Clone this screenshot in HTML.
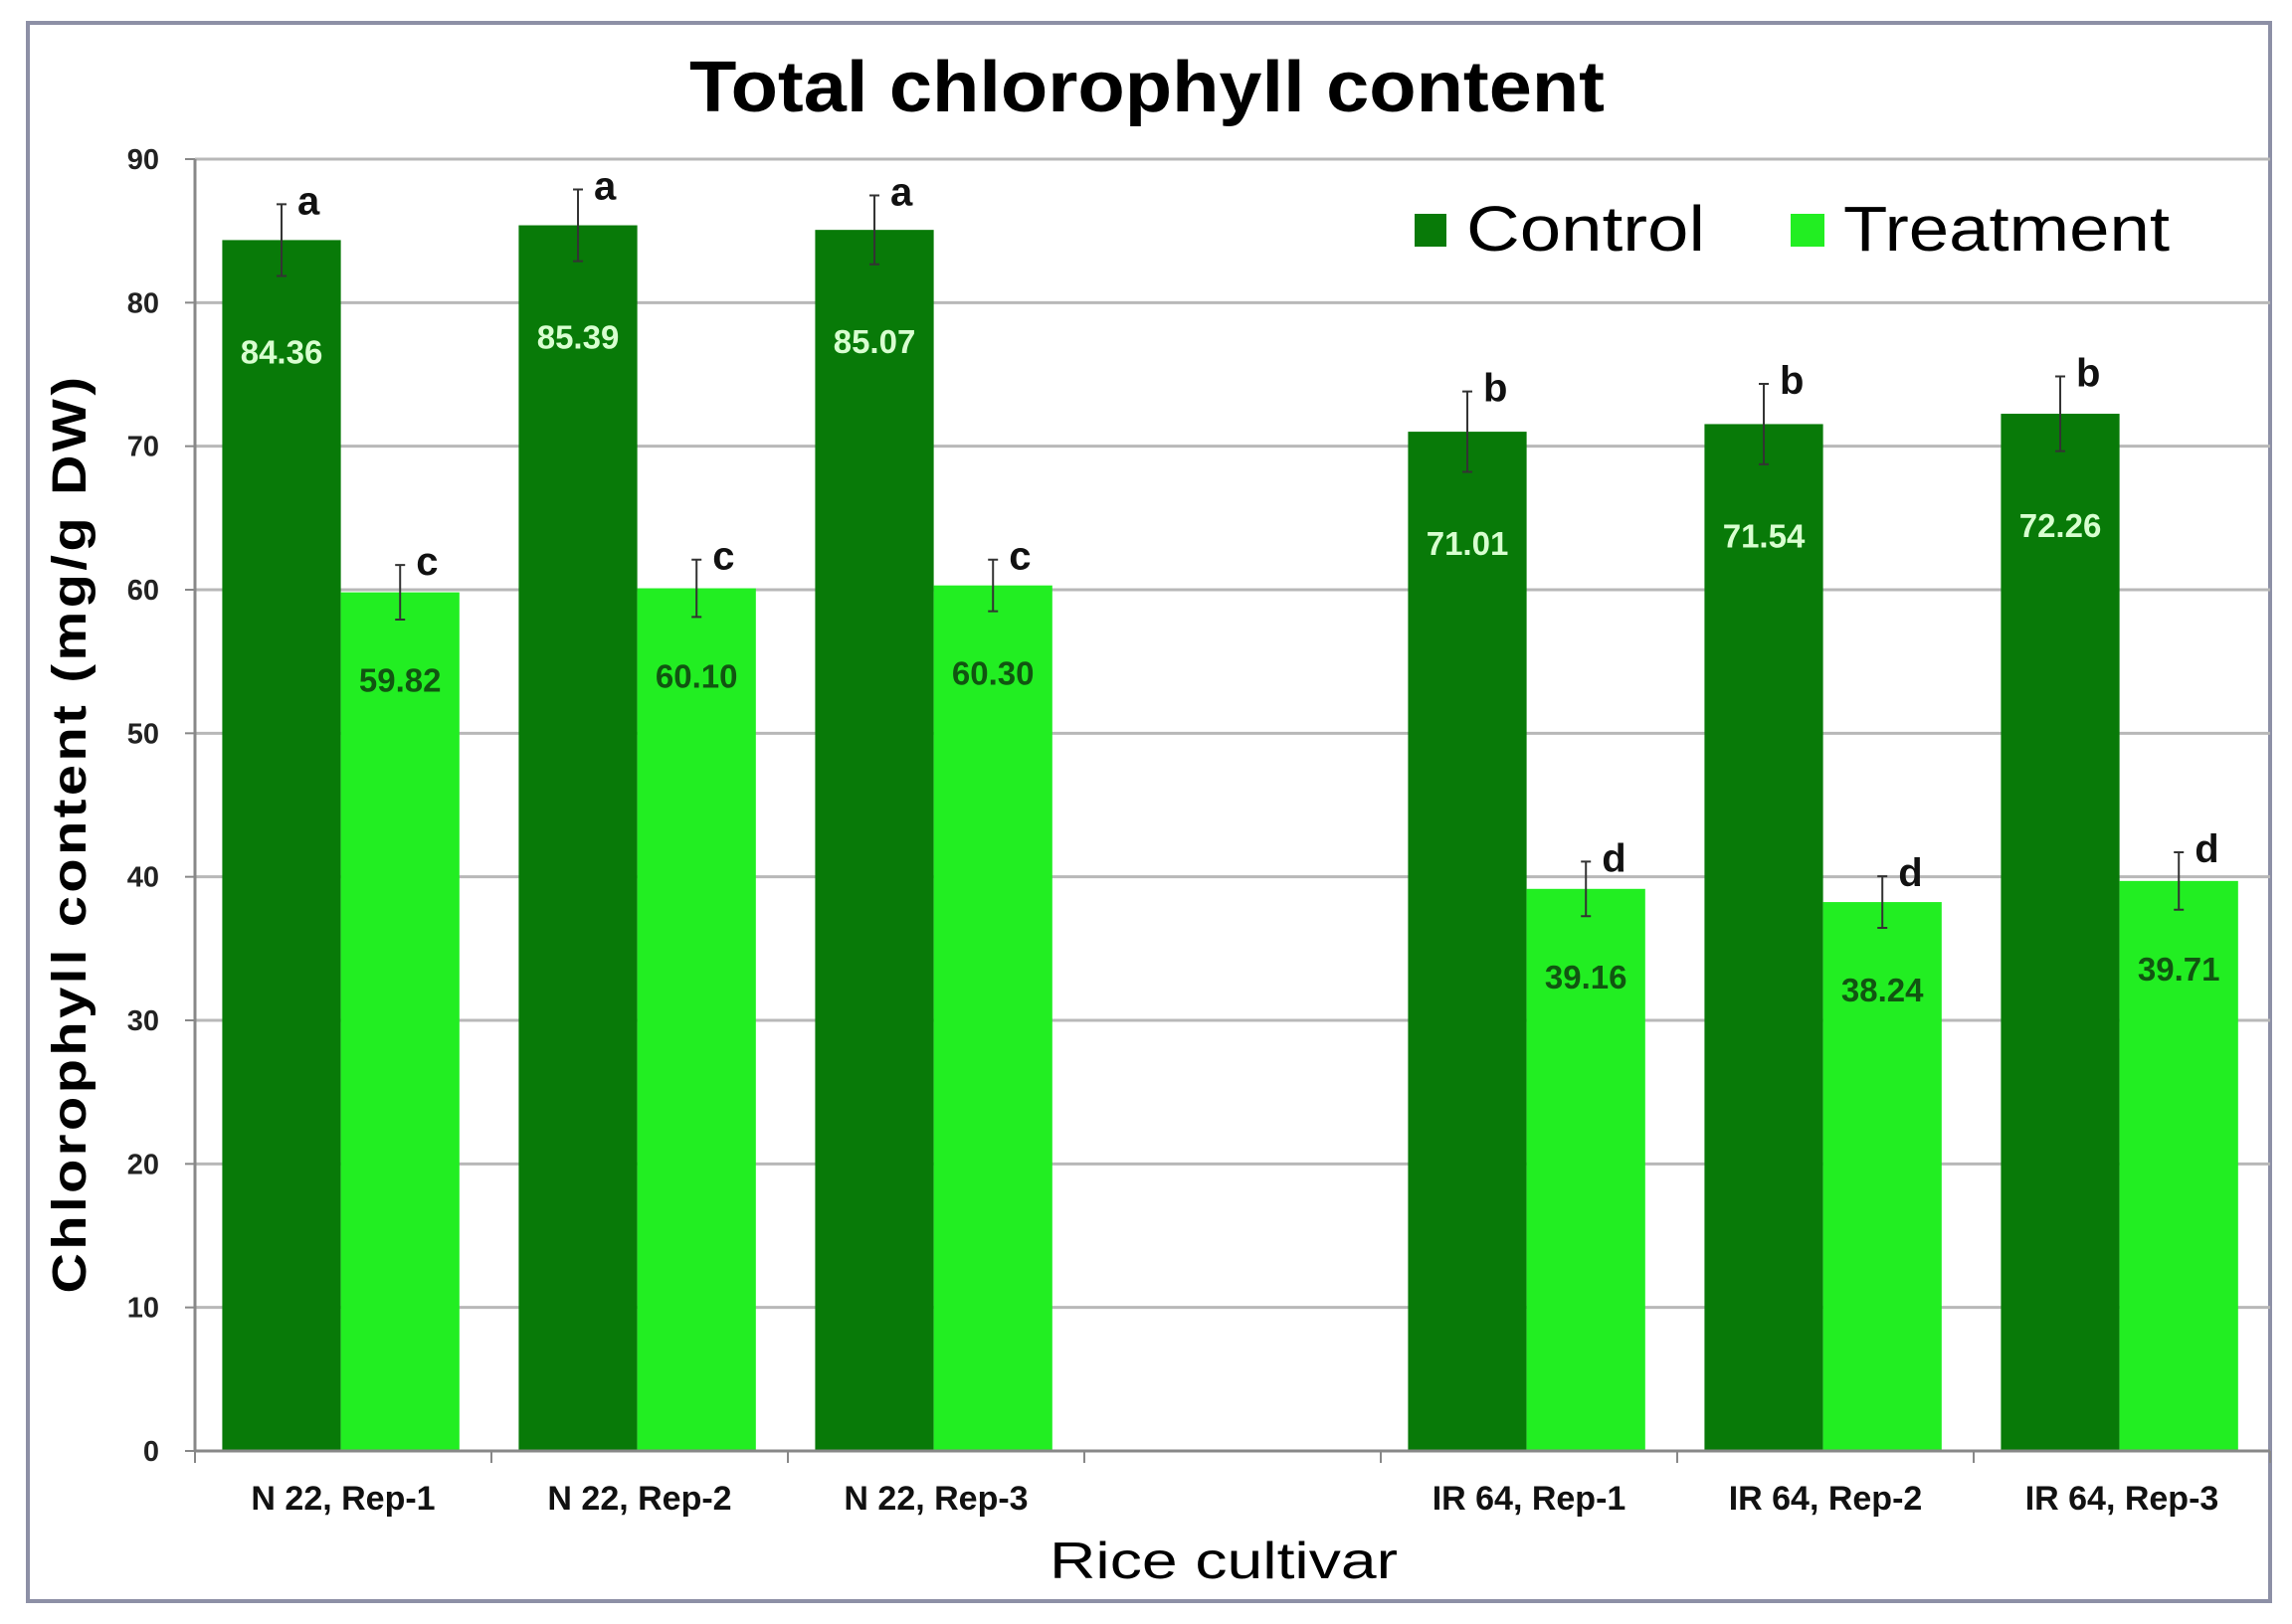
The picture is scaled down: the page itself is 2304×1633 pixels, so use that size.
<!DOCTYPE html>
<html><head><meta charset="utf-8"><style>
html,body{margin:0;padding:0;background:#fff;}
svg{display:block;font-family:"Liberation Sans",Arial,sans-serif;}
</style></head><body>
<svg id="chart" width="2304" height="1633" viewBox="0 0 2304 1633" xmlns="http://www.w3.org/2000/svg">
<rect x="28" y="23" width="2254" height="1587" fill="#fff" stroke="#8d90a6" stroke-width="4"/>
<text x="1153" y="112" text-anchor="middle" font-size="72" font-weight="bold" textLength="920" lengthAdjust="spacingAndGlyphs">Total chlorophyll content</text>
<g id="grid"></g><g id="bars"></g><g id="axes"></g>
<text transform="translate(86,838) rotate(-90)" text-anchor="middle" font-size="48" font-weight="bold" letter-spacing="3" textLength="925" lengthAdjust="spacingAndGlyphs">Chlorophyll content (mg/g DW)</text>
<text x="1230" y="1587" text-anchor="middle" font-size="52" textLength="350" lengthAdjust="spacingAndGlyphs">Rice cultivar</text>
<g>
<rect x="1422" y="215" width="32" height="33" fill="#087a08"/>
<text x="1474" y="252" font-size="64" textLength="240" lengthAdjust="spacingAndGlyphs">Control</text>
<rect x="1800" y="215" width="34" height="33" fill="#22ee22"/>
<text x="1853" y="252" font-size="64" textLength="328" lengthAdjust="spacingAndGlyphs">Treatment</text>
</g>
</svg>
<script>
const categories = ["N 22, Rep-1","N 22, Rep-2","N 22, Rep-3","","IR 64, Rep-1","IR 64, Rep-2","IR 64, Rep-3"];
const controlValues = [84.36,85.39,85.07,null,71.01,71.54,72.26];
const treatmentValues = [59.82,60.10,60.30,null,39.16,38.24,39.71];
const controlErrors = [2.5,2.5,2.4,null,2.8,2.8,2.6];
const treatmentErrors = [1.9,2.0,1.8,null,1.9,1.8,2.0];
const controlLetters = ["a","a","a","","b","b","b"];
const treatmentLetters = ["c","c","c","","d","d","d"];
const yTicks = [0,10,20,30,40,50,60,70,80,90];

const NS="http://www.w3.org/2000/svg";
const L=196,R=2282,T=160,B=1459,yMax=90;
const cw=(R-L)/categories.length;
const y=v=>B-(v/yMax)*(B-T);
const xc=i=>L+i*cw;
function mk(tag,attrs,parent,text){const e=document.createElementNS(NS,tag);for(const k in attrs)e.setAttribute(k,attrs[k]);if(text!==undefined)e.textContent=text;parent.appendChild(e);return e;}
const grid=document.getElementById('grid'),bars=document.getElementById('bars'),axes=document.getElementById('axes');
yTicks.forEach(t=>{
  if(t>0){const g=mk('line',{x1:L,x2:R,y1:y(t),y2:y(t),stroke:'#b8b8b8','stroke-width':3},grid);
  
  }
  const tk=mk('line',{x1:L-10,x2:L,y1:y(t),y2:y(t),stroke:'#888','stroke-width':2},axes);
  
  
  const lb=mk('text',{x:L-36,y:y(t)+10,'text-anchor':'end','font-size':29,'font-weight':'bold',fill:'#222'},axes,String(t));
  
  
});
const ya=mk('line',{x1:L,x2:L,y1:T,y2:B,stroke:'#888','stroke-width':3},axes);


const xa=mk('line',{x1:L,x2:R,y1:B,y2:B,stroke:'#888','stroke-width':3},axes);


for(let i=0;i<=categories.length;i++){
  const tk=mk('line',{x1:xc(i),x2:xc(i),y1:B,y2:B+12,stroke:'#888','stroke-width':2},axes);
  
  
}
const bw=cw*0.40, off=cw*0.092;
function drawBar(i,v,e,letter,x,fill,txtFill,series){
  const top=y(v);
  const r=mk('rect',{x:x,y:top,width:bw,height:B-top,fill:fill},bars);
  
  
  const cx=x+bw/2;
  const eb=mk('path',{d:`M${cx},${y(v+e)}V${y(v-e)}M${cx-5},${y(v+e)}H${cx+5}M${cx-5},${y(v-e)}H${cx+5}`,stroke:'#333','stroke-width':2,fill:'none'},bars);
  
  
  const lt=mk('text',{x:cx+16,y:y(v+e)+10,'font-size':40,'font-weight':'bold',fill:'#111'},bars,letter);
  
  
  const vl=mk('text',{x:cx,y:top+(series==='control'?124:100),'text-anchor':'middle','font-size':33,'font-weight':'bold',fill:txtFill},bars,v.toFixed(2));
  
  
}
categories.forEach((c,i)=>{
  if(controlValues[i]!==null){
    drawBar(i,controlValues[i],controlErrors[i],controlLetters[i],xc(i)+off,'#087a08','#d8ffd0','control');
    drawBar(i,treatmentValues[i],treatmentErrors[i],treatmentLetters[i],xc(i)+off+bw,'#22ee22','#115511','treatment');
  }
  if(c){const t=mk('text',{x:xc(i)+cw/2,y:B+59,'text-anchor':'middle','font-size':34,'font-weight':'bold',fill:'#111'},axes,c);
  
  }
});
</script>
</body></html>
